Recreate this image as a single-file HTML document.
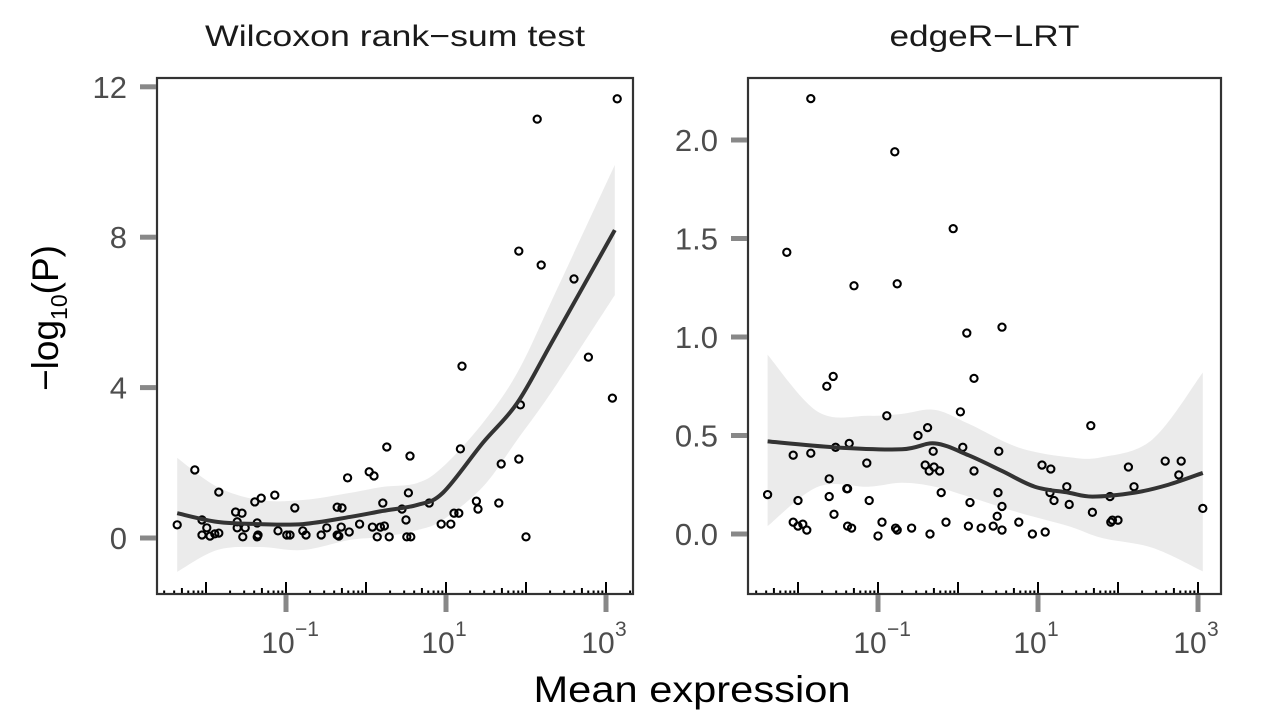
<!DOCTYPE html>
<html><head><meta charset="utf-8"><style>
html,body{margin:0;padding:0;background:#fff;}
svg{display:block;font-family:"Liberation Sans",sans-serif;}
</style></head><body>
<svg id="chart" width="1266" height="722" viewBox="0 0 1266 722"></svg>
<script>
// ---- Left panel (Wilcoxon) data: log10 mean expression, -log10 P
const wilcoxLogX = [-2.36,-2.14,-2.05,-2.05,-1.99,-1.95,-1.89,-1.84,-1.84,-1.63,-1.55,-1.61,-1.61,-1.51,-1.54,-1.39,-1.31,-1.36,-1.36,-1.35,-1.14,-1.10,-0.99,-0.95,-0.89,-0.79,-0.75,-0.56,-0.49,-0.36,-0.30,-0.36,-0.34,-0.31,-0.21,-0.23,-0.08,0.04,0.10,0.08,0.21,0.14,0.18,0.23,0.26,0.29,0.45,0.50,0.53,0.55,0.51,0.56,0.79,0.94,1.06,1.10,1.16,1.18,1.20,1.38,1.40,1.66,1.69,1.91,1.93,2.00,1.91,2.19,2.14,2.60,2.78,3.08,3.14];
const wilcoxP = [0.35,1.81,0.48,0.08,0.27,0.05,0.11,0.13,1.22,0.69,0.66,0.43,0.27,0.27,0.03,0.96,1.06,0.40,0.03,0.08,1.14,0.19,0.08,0.08,0.80,0.19,0.08,0.08,0.27,0.82,0.80,0.08,0.05,0.29,0.16,1.60,0.37,1.76,1.65,0.29,0.93,0.03,0.29,0.32,2.42,0.03,0.77,0.48,1.20,2.18,0.03,0.03,0.93,0.37,0.37,0.66,0.66,2.37,4.57,0.98,0.77,0.93,1.97,2.10,3.54,0.03,7.63,7.26,11.14,6.89,4.81,3.72,11.68];
const wilcoxFitX = [-2.36,-1.86,-1.33,-0.79,-0.20,0.21,0.64,0.96,1.46,1.89,2.34,3.11];
const wilcoxFit = [0.66,0.43,0.37,0.37,0.56,0.72,0.88,1.20,2.53,3.59,5.27,8.19];
const wilcoxHi = [2.13,1.36,1.01,1.01,1.20,1.36,1.46,1.89,3.06,4.39,6.4,9.92];
const wilcoxLo = [-0.90,-0.32,-0.24,-0.32,-0.05,0.03,0.21,0.48,1.36,2.61,3.95,6.46];
const wilcoxYTicks = [0,4,8,12];
// ---- Right panel (edgeR-LRT) data
const edgerLogX = [-2.38,-2.06,-2.00,-2.06,-2.00,-1.94,-1.89,-1.84,-1.64,-1.56,-1.61,-1.61,-1.55,-1.53,-1.39,-1.38,-1.36,-1.38,-1.33,-1.14,-1.11,-0.95,-1.00,-0.89,-0.78,-0.76,-0.58,-0.50,-0.38,-0.35,-0.41,-0.36,-0.30,-0.23,-0.31,-0.21,-0.15,0.03,0.06,0.13,0.15,0.20,0.20,0.29,0.44,0.49,0.50,0.51,0.55,0.55,0.76,0.93,1.09,1.05,1.16,1.20,1.15,1.36,1.39,1.66,1.68,1.90,1.91,1.93,2.00,2.13,2.20,2.59,2.79,2.76,3.06,-2.14,-1.84,-1.30,-0.79,-0.76,-0.06,0.11,0.55];
const edgerP = [0.20,0.40,0.17,0.06,0.04,0.05,0.02,0.41,0.75,0.80,0.28,0.19,0.10,0.44,0.23,0.23,0.46,0.04,0.03,0.36,0.17,0.06,-0.01,0.60,0.03,0.02,0.03,0.50,0.54,0.00,0.35,0.32,0.34,0.32,0.42,0.21,0.06,0.62,0.44,0.04,0.16,0.79,0.32,0.03,0.04,0.09,0.21,0.42,0.14,0.02,0.06,0.00,0.01,0.35,0.33,0.17,0.21,0.24,0.15,0.55,0.11,0.19,0.06,0.07,0.07,0.34,0.24,0.37,0.37,0.30,0.13,1.43,2.21,1.26,1.94,1.27,1.55,1.02,1.05];
const edgerFitX = [-2.38,-1.54,-0.70,-0.29,0.13,0.55,0.96,1.38,1.68,2.21,2.63,3.06];
const edgerFit = [0.47,0.44,0.43,0.46,0.40,0.32,0.24,0.21,0.19,0.21,0.25,0.31];
const edgerBandX = [-2.38,-1.75,-1.12,-0.70,-0.29,0.13,0.75,1.38,1.80,2.43,3.06];
const edgerHi = [0.91,0.62,0.60,0.61,0.63,0.56,0.44,0.39,0.39,0.48,0.82];
const edgerLo = [0.04,0.24,0.24,0.26,0.24,0.19,0.11,0.04,-0.02,-0.07,-0.19];
const edgerYTicks = [0.0,0.5,1.0,1.5,2.0];
const xTickExps = [-1,1,3];

const NS="http://www.w3.org/2000/svg";
const svg=document.getElementById('chart');
function mk(tag,attrs,parent){const e=document.createElementNS(NS,tag);for(const k in attrs)e.setAttribute(k,attrs[k]);(parent||svg).appendChild(e);return e;}
function smooth(pts,start){
  let fd=(start?'M':'L')+pts[0][0]+','+pts[0][1];
  for(let i=0;i<pts.length-1;i++){
    const p0=pts[Math.max(0,i-1)],p1=pts[i],p2=pts[i+1],p3=pts[Math.min(pts.length-1,i+2)];
    fd+='C'+(p1[0]+(p2[0]-p0[0])/6)+','+(p1[1]+(p2[1]-p0[1])/6)+' '+(p2[0]-(p3[0]-p1[0])/6)+','+(p2[1]-(p3[1]-p1[1])/6)+' '+p2[0]+','+p2[1];
  }
  return fd;
}

function panel(cfg){
  const g=mk('g',{});
  
  
  const sx=v=>cfg.x0+(v-cfg.lx0)*(cfg.x1-cfg.x0)/(cfg.lx1-cfg.lx0);
  const sy=v=>cfg.yZero-v*cfg.ypx;
  const hiPts=cfg.bandX.map((x,i)=>[sx(x),sy(cfg.hi[i])]);
  const loPts=cfg.bandX.map((x,i)=>[sx(x),sy(cfg.lo[i])]).reverse();
  const rb=mk('path',{d:smooth(hiPts,true)+smooth(loPts,false)+'Z',fill:'#ebebeb',stroke:'none'},g);
  
  
  cfg.px.forEach((x,i)=>{
    const c=mk('circle',{cx:sx(x),cy:sy(cfg.py[i]),r:3.6,fill:'none',stroke:'#000','stroke-width':2.1},g);
    
    
  });
  const pts=cfg.fitX.map((x,i)=>[sx(x),sy(cfg.fit[i])]);
  const fl=mk('path',{d:smooth(pts,true),fill:'none',stroke:'#333','stroke-width':4},g);
  
  
  for(let e=-3;e<=3;e++){
    for(let m=1;m<=9;m++){
      const x=sx(e+Math.log10(m));
      if(x<cfg.x0+2||x>cfg.x1-1)continue;
      const len=m===1?12:(m===5?6:3.5);
      mk('line',{x1:x,x2:x,y1:cfg.yb,y2:cfg.yb-len,stroke:'#000','stroke-width':2},g);
    }
  }
  const fr=mk('rect',{x:cfg.x0,y:cfg.yt,width:cfg.x1-cfg.x0,height:cfg.yb-cfg.yt,fill:'none',stroke:'#333','stroke-width':2.2},g);
  
  
  cfg.yTicks.forEach(v=>{
    const y=sy(v);
    mk('line',{x1:cfg.x0-17,x2:cfg.x0-1,y1:y,y2:y,stroke:'#888','stroke-width':5},g);
    const t=mk('text',{x:cfg.x0-30,y:y+11,'text-anchor':'end','font-size':31,fill:'#4d4d4d'},g);
    t.textContent=cfg.yFmt(v);
    
    
  });
  xTickExps.forEach(ex=>{
    const x=sx(ex);
    mk('line',{x1:x,x2:x,y1:cfg.yb+1,y2:cfg.yb+18,stroke:'#888','stroke-width':5},g);
    const t=mk('text',{x:x-8,y:653,'text-anchor':'middle','font-size':30,fill:'#4d4d4d'},g);
    t.textContent='10';
    
    
    const s=mk('text',{x:x+9,y:636,'text-anchor':'start','font-size':21,fill:'#4d4d4d'},g);
    s.textContent=ex<0?'\u2212'+(-ex):String(ex);
    
    
  });
  const tt=mk('text',{x:(cfg.x0+cfg.x1)/2,y:46,'text-anchor':'middle','font-size':30,fill:'#1a1a1a',textLength:cfg.titleLen,lengthAdjust:'spacingAndGlyphs'},g);
  tt.textContent=cfg.title;
  
  
}

panel({name:'wilcoxon-panel',title:'Wilcoxon rank\u2212sum test',titleLen:380,x0:157,x1:633,yt:78,yb:594,lx0:-2.6125,lx1:3.3375,yZero:538,ypx:37.6,
  px:wilcoxLogX,py:wilcoxP,fitX:wilcoxFitX,fit:wilcoxFit,bandX:wilcoxFitX,hi:wilcoxHi,lo:wilcoxLo,yTicks:wilcoxYTicks,yFmt:v=>String(v)});
panel({name:'edger-panel',title:'edgeR\u2212LRT',titleLen:190,x0:748,x1:1221,yt:78,yb:594,lx0:-2.625,lx1:3.2875,yZero:534,ypx:197,
  px:edgerLogX,py:edgerP,fitX:edgerFitX,fit:edgerFit,bandX:edgerBandX,hi:edgerHi,lo:edgerLo,yTicks:edgerYTicks,yFmt:v=>v.toFixed(1)});

const xt=mk('text',{x:692,y:702,'text-anchor':'middle','font-size':37,fill:'#000',textLength:317,lengthAdjust:'spacingAndGlyphs'});
xt.textContent='Mean expression';


const yt=mk('text',{transform:'translate(58,318) rotate(-90)','text-anchor':'middle','font-size':37,fill:'#000'});


const t1=mk('tspan',{},yt);t1.textContent='\u2212log';
const t2=mk('tspan',{'font-size':23,dy:9},yt);t2.textContent='10';
const t3=mk('tspan',{dy:-9},yt);t3.textContent='(P)';
</script>
</body></html>
